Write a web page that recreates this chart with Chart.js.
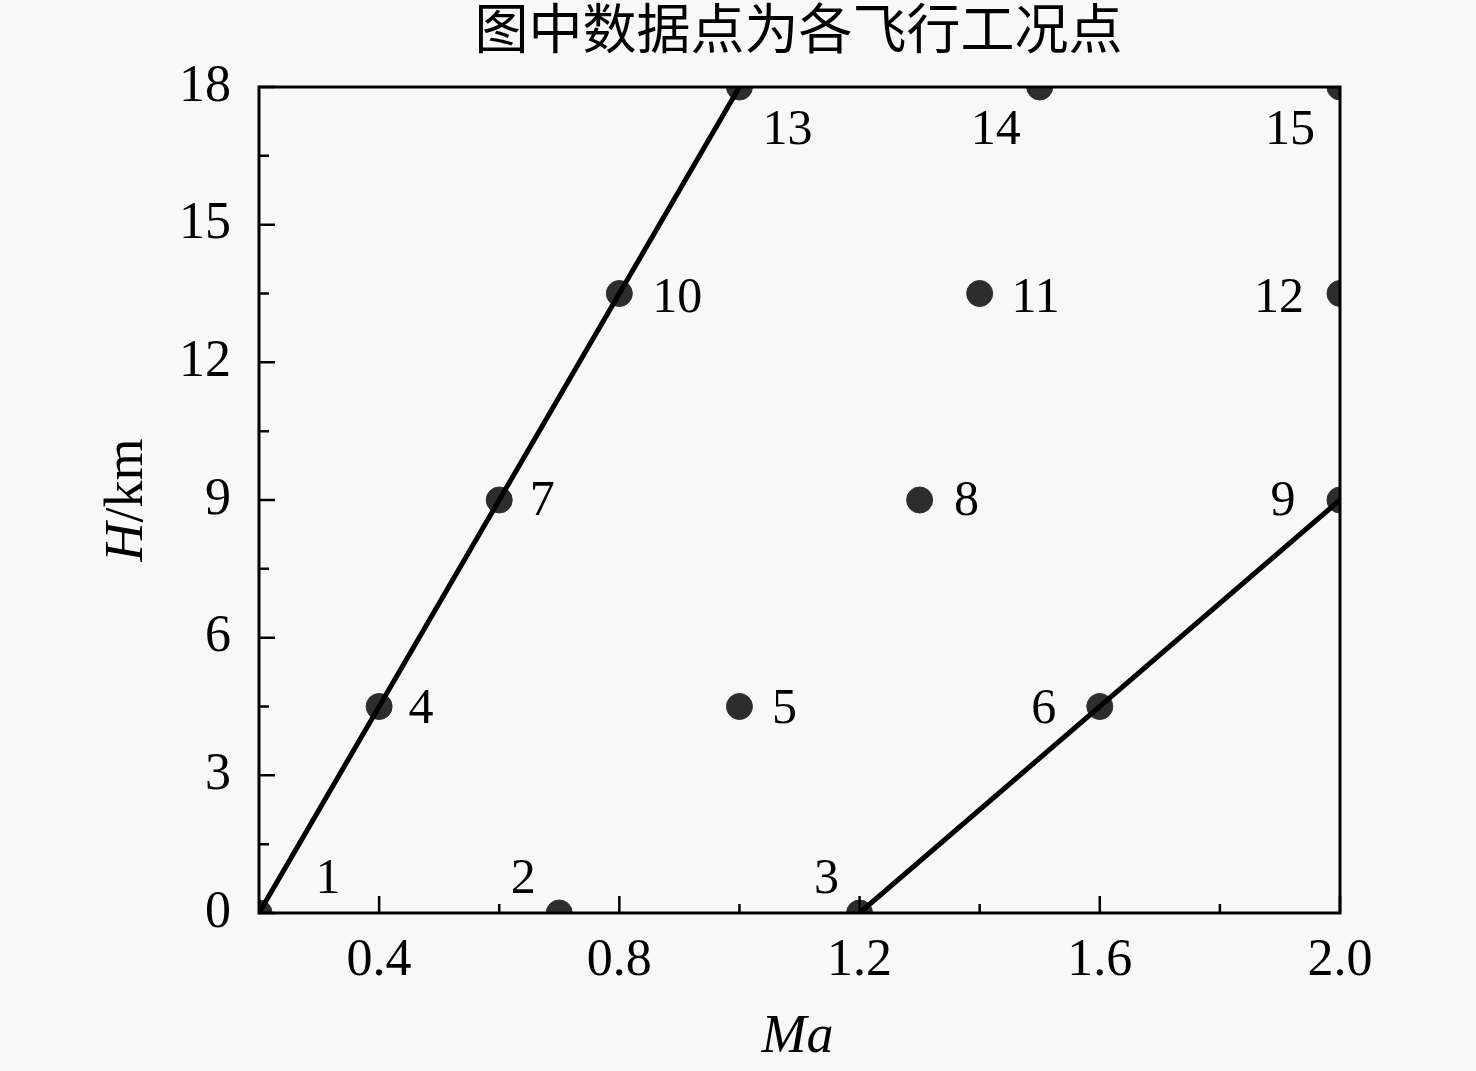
<!DOCTYPE html>
<html>
<head>
<meta charset="utf-8">
<script src="https://cdn.jsdelivr.net/npm/chart.js@4.4.0/dist/chart.umd.min.js"></script>
<style>
  html, body { margin: 0; padding: 0; background: #f8f8f8; }
  #wrap { width: 1476px; height: 1071px; }
</style>
</head>
<body>
<div id="wrap"><canvas id="chart" width="1476" height="1071"></canvas></div>
<script>
// flight condition points (Ma, H in km)
var machNumbers = [0.2, 0.7, 1.2, 0.4, 1.0, 1.6, 0.6, 1.3, 2.0, 0.8, 1.4, 2.0, 1.0, 1.5, 2.0];
var altitudesKm = [0, 0, 0, 4.5, 4.5, 4.5, 9, 9, 9, 13.5, 13.5, 13.5, 18, 18, 18];
var pointLabels = ['1', '2', '3', '4', '5', '6', '7', '8', '9', '10', '11', '12', '13', '14', '15'];

// boundary lines
var leftLineMa = [0.2, 1.0];
var leftLineH = [0, 18];
var rightLineMa = [1.2, 2.0];
var rightLineH = [0, 9];

// tick labels
var xTickValues = [0.4, 0.8, 1.2, 1.6, 2.0];
var xMinorValues = [0.6, 1.0, 1.4, 1.8];
var yTickValues = [0, 3, 6, 9, 12, 15, 18];
var yMinorValues = [1.5, 4.5, 7.5, 10.5, 13.5, 16.5];

var chartTitle = '图中数据点为各飞行工况点';

// label placement relative to each point (pixels)
var labelOffsets = [
    [69, -33], [-36, -33], [-33, -33],
    [42, 3], [45, 3], [-56, 3],
    [43, 2], [47, 2], [-57, 2],
    [58, 5], [56, 5], [-61, 5],
    [48, 44], [-44, 44], [-50, 44]
];

function toXY(xs, ys) {
    return xs.map(function(x, i) { return { x: x, y: ys[i] }; });
}

var serif = '"Liberation Serif", "Times New Roman", serif';

var decorPlugin = {
    id: 'decor',
    afterDatasetsDraw: function(chart) {
        var ctx = chart.ctx;
        var area = chart.chartArea;
        var xs = chart.scales.x;
        var ys = chart.scales.y;
        ctx.save();

        // frame
        ctx.strokeStyle = '#000';
        ctx.lineWidth = 3;
        ctx.strokeRect(area.left, area.top, area.right - area.left, area.bottom - area.top);

        // inward ticks on bottom and left
        ctx.lineWidth = 2.5;
        ctx.beginPath();
        xTickValues.forEach(function(v) {
            var px = xs.getPixelForValue(v);
            ctx.moveTo(px, area.bottom); ctx.lineTo(px, area.bottom - 17);
        });
        xMinorValues.forEach(function(v) {
            var px = xs.getPixelForValue(v);
            ctx.moveTo(px, area.bottom); ctx.lineTo(px, area.bottom - 9);
        });
        yTickValues.forEach(function(v) {
            var py = ys.getPixelForValue(v);
            ctx.moveTo(area.left, py); ctx.lineTo(area.left + 16, py);
        });
        yMinorValues.forEach(function(v) {
            var py = ys.getPixelForValue(v);
            ctx.moveTo(area.left, py); ctx.lineTo(area.left + 10, py);
        });
        ctx.stroke();

        // point numbers
        ctx.fillStyle = '#000';
        ctx.font = '50px ' + serif;
        ctx.textAlign = 'center';
        ctx.textBaseline = 'middle';
        pointLabels.forEach(function(t, i) {
            var px = xs.getPixelForValue(machNumbers[i]) + labelOffsets[i][0];
            var py = ys.getPixelForValue(altitudesKm[i]) + labelOffsets[i][1];
            ctx.fillText(t, px, py);
        });

        // title
        ctx.font = '54px "Noto Sans CJK SC"';
        ctx.fillText(chartTitle, (area.left + area.right) / 2 - 1, 28);

        // x axis title
        ctx.font = 'italic 54px ' + serif;
        ctx.fillText('Ma', (area.left + area.right) / 2 - 2, 1038);

        // y axis title: italic H + regular /km
        ctx.translate(128, (area.top + area.bottom) / 2);
        ctx.rotate(-Math.PI / 2);
        ctx.font = 'italic 54px ' + serif;
        var wH = ctx.measureText('H').width;
        ctx.font = '54px ' + serif;
        var wRest = ctx.measureText('/km').width;
        var start = -(wH + wRest) / 2;
        ctx.textAlign = 'left';
        ctx.font = 'italic 54px ' + serif;
        ctx.fillText('H', start, 0);
        ctx.font = '54px ' + serif;
        ctx.fillText('/km', start + wH, 0);

        ctx.restore();
    }
};

var ctx = document.getElementById('chart').getContext('2d');
var myChart = new Chart(ctx, {
    type: 'scatter',
    data: {
        datasets: [
            {
                label: 'points',
                data: toXY(machNumbers, altitudesKm),
                pointRadius: 13,
                pointHoverRadius: 13,
                pointBackgroundColor: '#2d2d2d',
                pointBorderColor: '#2d2d2d',
                pointBorderWidth: 1,
                showLine: false,
                clip: 0,
                order: 1
            },
            {
                label: 'left',
                data: toXY(leftLineMa, leftLineH),
                showLine: true,
                borderColor: '#000',
                borderWidth: 5,
                pointRadius: 0,
                clip: 0,
                order: 0
            },
            {
                label: 'right',
                data: toXY(rightLineMa, rightLineH),
                showLine: true,
                borderColor: '#000',
                borderWidth: 5,
                pointRadius: 0,
                clip: 0,
                order: 0
            }
        ]
    },
    options: {
        responsive: false,
        animation: false,
        devicePixelRatio: 1,
        layout: { padding: { top: 87, right: 136, left: 0, bottom: 0 } },
        plugins: {
            legend: { display: false },
            tooltip: { enabled: false },
            title: { display: false }
        },
        scales: {
            x: {
                type: 'linear',
                min: 0.2,
                max: 2.0,
                grid: { display: false },
                border: { display: false },
                afterBuildTicks: function(scale) {
                    scale.ticks = xTickValues.map(function(v) { return { value: v }; });
                },
                afterFit: function(scale) { scale.height = 158; },
                ticks: {
                    color: '#000',
                    padding: 9,
                    maxRotation: 0,
                    autoSkip: false,
                    font: { family: serif, size: 52 },
                    callback: function(v) { return v.toFixed(1); }
                }
            },
            y: {
                type: 'linear',
                min: 0,
                max: 18,
                grid: { display: false },
                border: { display: false },
                afterBuildTicks: function(scale) {
                    scale.ticks = yTickValues.map(function(v) { return { value: v }; });
                },
                afterFit: function(scale) { scale.width = 259; },
                ticks: {
                    color: '#000',
                    padding: 20,
                    autoSkip: false,
                    font: { family: serif, size: 52 },
                    callback: function(v) { return String(v); }
                }
            }
        }
    },
    plugins: [decorPlugin]
});
</script>
</body>
</html>
